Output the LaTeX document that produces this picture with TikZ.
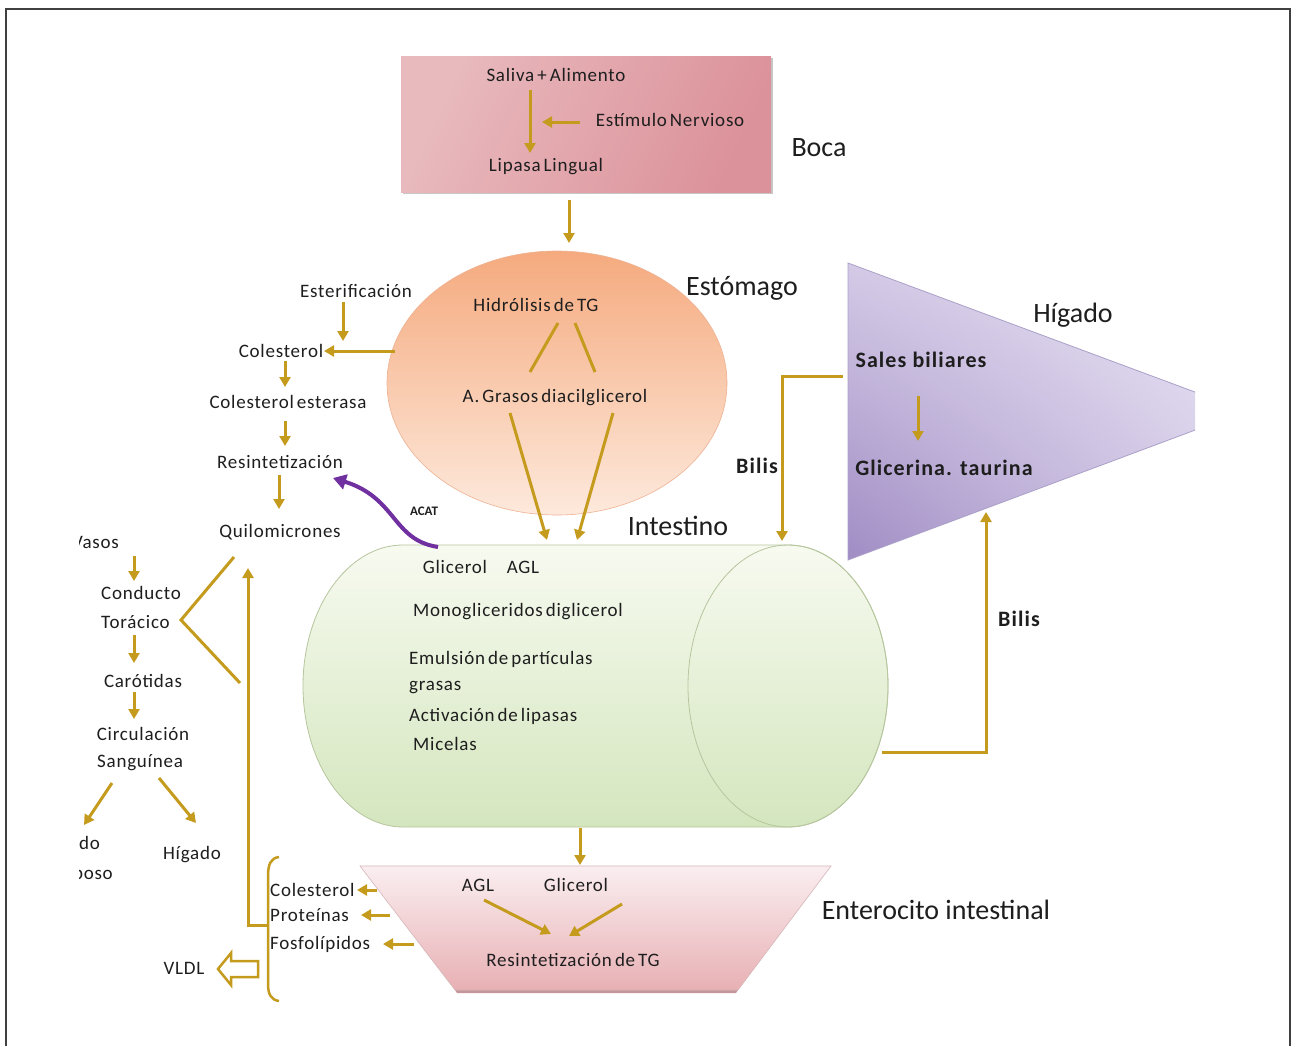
\documentclass[tikz,border=0pt]{standalone}
\usepackage{fontspec}
\setmainfont{Carlito}
\newfontfamily\smfont{Carlito}[LetterSpace=4.0,WordSpace=0.6]
\newfontfamily\bdfont{Carlito}[LetterSpace=5.0]
\usetikzlibrary{arrows.meta,shadings}
\definecolor{gold}{RGB}{197,155,30}
\definecolor{purp}{RGB}{112,48,160}
\definecolor{ink}{RGB}{30,30,30}
\definecolor{bocaL}{RGB}{232,186,190}
\definecolor{bocaM}{RGB}{248,234,236}
\definecolor{bocaR}{RGB}{220,146,154}
\definecolor{stoT}{RGB}{245,170,126}
\definecolor{stoM}{RGB}{250,204,176}
\definecolor{stoB}{RGB}{253,233,220}
\definecolor{stoE}{RGB}{238,178,146}
\definecolor{intT}{RGB}{247,250,240}
\definecolor{intB}{RGB}{212,230,190}
\definecolor{intE}{RGB}{182,198,158}
\definecolor{livUL}{RGB}{212,202,230}
\definecolor{livUR}{RGB}{236,232,246}
\definecolor{livLL}{RGB}{160,140,196}
\definecolor{livLR}{RGB}{214,204,232}
\definecolor{livE}{RGB}{170,160,200}
\definecolor{entT}{RGB}{250,238,240}
\definecolor{entB}{RGB}{232,176,180}
\definecolor{entE}{RGB}{196,150,155}
\tikzset{
 arr/.style={draw=gold,line width=3pt,-{Triangle[length=10pt,width=11pt]}},
 ln/.style={draw=gold,line width=3pt},
 sm/.style={font=\smfont\fontsize{19}{22}\selectfont,text=ink,inner sep=0pt},
 big/.style={font=\fontsize{28}{32}\selectfont,text=ink,inner sep=0pt},
 bd/.style={font=\bdfont\bfseries\fontsize{22}{26}\selectfont,text=ink,inner sep=0pt},
 tiny/.style={font=\bfseries\fontsize{13}{15}\selectfont,text=ink,inner sep=0pt},
}
\begin{document}
\begin{tikzpicture}[x=1pt,y=-1pt]
\fill[white] (0,0) rectangle (1293,1045);
\draw[black!75,line width=1.5pt] (6,1046) -- (6,9) -- (1290,9) -- (1290,1046);

% ---------- Boca ----------
\fill[black!22] (403,58) rectangle (773,194);
\shade[left color=bocaL,middle color=bocaM,right color=bocaR,shading angle=65] (401,56) rectangle (771,192);
\node[sm] (saliva) at (556,75) {Saliva + Alimento};
\node[sm] (estimulo) at (670,120) {Estímulo Nervioso};
\node[sm] (lipasa) at (546,167) {Lipasa Lingual};
\node[big] (boca) at (819,148) {Boca};
\draw[arr] (530,90) -- (530,153);
\draw[arr] (580,122) -- (542,122);
\draw[arr] (569,200) -- (569,243);

% ---------- Estómago ----------
\shade[top color=stoT,middle color=stoM,bottom color=stoB] (557,383) ellipse [x radius=170pt,y radius=132pt];
\draw[stoE,line width=0.6pt] (557,383) ellipse [x radius=170pt,y radius=132pt];
\node[big] (estomago) at (742,288) {Estómago};
\node[sm] (hidro) at (536,305) {Hidrólisis de TG};
\node[sm] (agrasos) at (555,398) {A. Grasos diacilglicerol};
\draw[ln] (558,323) -- (530,372);
\draw[ln] (575,323) -- (595,372);

% ---------- Intestino ----------
\shade[top color=intT,bottom color=intB]
 (403,545) -- (788,545)
 .. controls (843.2,545) and (888,608.1) .. (888,686)
 .. controls (888,763.9) and (843.2,827) .. (788,827)
 -- (403,827)
 .. controls (347.8,827) and (303,763.9) .. (303,686)
 .. controls (303,608.1) and (347.8,545) .. (403,545) -- cycle;
\draw[intE,line width=0.8pt]
 (403,545) -- (788,545)
 .. controls (843.2,545) and (888,608.1) .. (888,686)
 .. controls (888,763.9) and (843.2,827) .. (788,827)
 -- (403,827)
 .. controls (347.8,827) and (303,763.9) .. (303,686)
 .. controls (303,608.1) and (347.8,545) .. (403,545) -- cycle;
\draw[intE,line width=0.8pt] (788,686) ellipse [x radius=100pt,y radius=141pt];
\node[big] (intestino) at (678,526) {Intestino};
\node[sm] (glic1) at (455,567) {Glicerol};
\node[sm] (agl1) at (523,567) {AGL};
\node[sm] (mono) at (518,612) {Monogliceridos diglicerol};
\node[sm,anchor=west] (emul) at (409,659) {Emulsión de partículas};
\node[sm,anchor=west] (grasas) at (409,688) {grasas};
\node[sm,anchor=west] (activ) at (409,716) {Activación de lipasas};
\node[sm,anchor=west] (micelas) at (413,744) {Micelas};
\draw[arr] (510,413) -- (547,540);
\draw[arr] (613,413) -- (577,540);

% ---------- clipped parts ----------
\begin{scope}
\clip (79,0) rectangle (1195,1045);
\shade[upper left=livUL,upper right=livUR,lower left=livLL,lower right=livLR]
 (848,263) -- (1246,411) -- (848,560) -- cycle;
\draw[livE,line width=0.8pt] (848,263) -- (1246,411) -- (848,560) -- cycle;
\node[sm,anchor=east] (vasos) at (119,542) {Vasos};
\node[sm,anchor=east] (tejido) at (100,845) {Tejido};
\node[sm,anchor=east] (adiposo) at (113,874) {Adiposo};
\end{scope}

% ---------- Hígado ----------
\node[big] (higado) at (1073,315) {Hígado};
\node[bd] (sales) at (921,360) {Sales biliares};
\node[bd] (glicerina) at (944,468) {Glicerina. taurina};
\draw[arr] (918,396) -- (918,441);
\node[bd] (bilis1) at (757,466) {Bilis};
\node[bd] (bilis2) at (1019,619) {Bilis};
\draw[arr] (843,376) -- (782,376) -- (782,541);
\draw[arr] (882,752) -- (986,752) -- (986,512);

% ---------- left column (upper) ----------
\node[sm] (ester) at (356,291) {Esterificación};
\node[sm] (col1) at (281,351) {Colesterol};
\node[sm] (colest) at (288,402) {Colesterol esterasa};
\node[sm] (resint) at (280,462) {Resintetización};
\node[sm] (quilo) at (280,532) {Quilomicrones};
\node[tiny] (acat) at (424,511) {ACAT};
\draw[arr] (343,302) -- (343,341);
\draw[arr] (395,351) -- (324,351);
\draw[arr] (285,361) -- (285,387);
\draw[arr] (285,421) -- (285,446);
\draw[arr] (279,475) -- (279,509);
\draw[purp,line width=4pt,-{Triangle[length=13pt,width=15pt]}] (438,547) .. controls (392,540) and (397,498) .. (333,478);

% ---------- left column (lower) ----------
\node[sm,anchor=west] (conducto) at (101,593) {Conducto};
\node[sm,anchor=west] (toracico) at (101,622) {Torácico};
\node[sm] (carot) at (143,681) {Carótidas};
\node[sm] (circ) at (143,734) {Circulación};
\node[sm,anchor=west] (sang) at (97,763) {Sanguínea};
\node[sm] (higado2) at (192,855) {Hígado};
\draw[arr] (134,556) -- (134,581);
\draw[arr] (134,635) -- (134,663);
\draw[arr] (134,692) -- (134,719);
\draw[arr] (112,783) -- (84,825);
\draw[arr] (159,778) -- (196,823);
\draw[ln,line join=miter] (234,557) -- (181,620) -- (240,683);

% ---------- Enterocito ----------
\fill[entE] (455,990) -- (738,990) -- (736,993) -- (457,993) -- cycle;
\shade[top color=entT,bottom color=entB] (360,866) -- (831,866) -- (738,990) -- (455,990) -- cycle;
\draw[entE!70,line width=0.6pt] (360,866) -- (831,866) -- (738,990) -- (455,990) -- cycle;
\node[big] (entero) at (936,910) {Enterocito intestinal};
\node[sm] (agl2) at (478,885) {AGL};
\node[sm] (glic2) at (576,885) {Glicerol};
\node[sm] (resintg) at (573,960) {Resintetización de TG};
\draw[arr] (580,828) -- (580,865);
\draw[arr] (484,900) -- (551,934);
\draw[arr] (622,904) -- (569,936);

% ---------- products ----------
\node[sm,anchor=west] (colb) at (270,890) {Colesterol};
\node[sm,anchor=west] (prot) at (270,915) {Proteínas};
\node[sm,anchor=west] (fosf) at (270,944) {Fosfolípidos};
\draw[arr] (377,890) -- (357,890);
\draw[arr] (390,915) -- (361,915);
\draw[arr] (414,944) -- (383,944);
\draw[ln,line width=2.5pt] (279,857) .. controls (271,858) and (268,864) .. (268,876) -- (268,984) .. controls (268,994) and (271,1000) .. (279,1001);
\draw[arr,line join=miter] (268,925) -- (248,925) -- (248,568);
\node[sm] (vldl) at (184,968) {VLDL};
\draw[gold,line width=2.5pt,fill=white,line join=miter] (258,961) -- (231,961) -- (231,953) -- (218,969) -- (231,985) -- (231,977) -- (258,977) -- cycle;
\end{tikzpicture}
\end{document}
